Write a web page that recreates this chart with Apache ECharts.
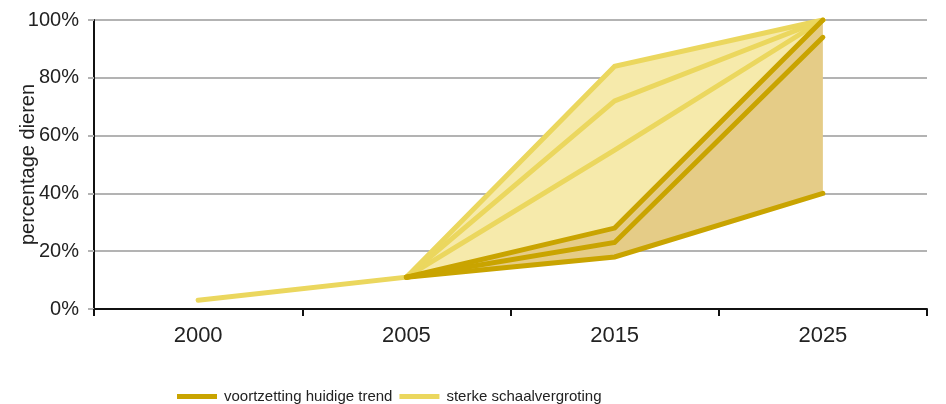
<!DOCTYPE html>
<html>
<head>
<meta charset="utf-8">
<script src="https://cdn.jsdelivr.net/npm/echarts@6/dist/echarts.min.js"></script>
<style>
  html, body { margin: 0; padding: 0; background: #fff; }
  #chart { width: 946px; height: 404px; }
</style>
</head>
<body>
<div id="chart"></div>
<script>
// jaren op de x-as
var years = ["2000", "2005", "2015", "2025"];

// sterke schaalvergroting (lichtgeel)
var sterk1 = [3, 11, 84, 100];
var sterk2 = [null, 11, 72, 100];
var sterk3 = [null, 11, 55, 100];

// voortzetting huidige trend (donkergeel)
var trend1 = [null, 11, 28, 100];
var trend2 = [null, 11, 23, 94];
var trend3 = [null, 11, 18, 40];

var yTicks = [0, 20, 40, 60, 80, 100];

var nameTrend = "voortzetting huidige trend";
var nameSterk = "sterke schaalvergroting";
var colTrend = "#c9a400";
var colSterk = "#ebd75e";

function diff(a, b) {
  return a.map(function(v, i) {
    return v == null || b[i] == null ? null : v - b[i];
  });
}

function lineSeries(name, data, color, z) {
  return {
    name: name,
    type: "line",
    data: data,
    showSymbol: false,
    symbol: "none",
    z: z,
    lineStyle: { color: color, width: 5, cap: "round", join: "miter" },
    itemStyle: { color: color }
  };
}

var chart = echarts.init(document.getElementById("chart"));

var option = {
  animation: false,
  textStyle: { fontFamily: "Liberation Sans, Arial, sans-serif" },
  grid: { left: 94, right: 19, top: 20, bottom: 95, containLabel: false, outerBoundsMode: "none" },
  legend: {
    left: 172,
    top: 384,
    itemWidth: 40,
    itemHeight: 5,
    itemGap: 7,
    icon: "rect",
    selectedMode: false,
    textStyle: { fontSize: 15, color: "#222", padding: [0, 0, 0, 2] },
    data: [
      { name: nameTrend, itemStyle: { color: colTrend } },
      { name: nameSterk, itemStyle: { color: colSterk } }
    ]
  },
  xAxis: {
    type: "category",
    boundaryGap: true,
    data: years,
    axisLine: { lineStyle: { color: "#111", width: 2 } },
    axisTick: { show: true, length: 7, lineStyle: { color: "#111", width: 2 } },
    axisLabel: { fontSize: 22, color: "#222", margin: 16 }
  },
  yAxis: {
    type: "value",
    min: 0,
    max: 100,
    interval: 20,
    name: "percentage dieren",
    nameLocation: "middle",
    nameGap: 56,
    nameMoveOverlap: false,
    nameTextStyle: { fontSize: 20, color: "#222" },
    axisLine: { show: true, lineStyle: { color: "#111", width: 2 } },
    axisTick: { show: true, length: 6, lineStyle: { color: "#b3b3b3", width: 2 } },
    axisLabel: {
      fontSize: 20,
      color: "#222",
      margin: 15,
      formatter: function(v) {
        return yTicks.indexOf(v) > -1 ? v + "%" : "";
      }
    },
    splitLine: { lineStyle: { color: "#b3b3b3", width: 2 } }
  },
  series: [
    // vlakken: gestapeld op de onderste trendlijn
    {
      name: "basis",
      type: "line",
      stack: "band",
      data: trend3,
      symbol: "none",
      lineStyle: { opacity: 0 },
      z: 1
    },
    {
      name: "band trend",
      type: "line",
      stack: "band",
      data: diff(trend1, trend3),
      symbol: "none",
      lineStyle: { opacity: 0 },
      areaStyle: { color: "#e5cc87", opacity: 1 },
      z: 1
    },
    {
      name: "band sterk",
      type: "line",
      stack: "band",
      data: diff(sterk1, trend1),
      symbol: "none",
      lineStyle: { opacity: 0 },
      areaStyle: { color: "#f6eaab", opacity: 1 },
      z: 1
    },
    lineSeries(nameSterk, sterk3, colSterk, 3),
    lineSeries(nameSterk, sterk2, colSterk, 3),
    lineSeries(nameSterk, sterk1, colSterk, 3),
    lineSeries(nameTrend, trend3, colTrend, 4),
    lineSeries(nameTrend, trend2, colTrend, 4),
    lineSeries(nameTrend, trend1, colTrend, 4)
  ]
};

chart.setOption(option);
</script>
</body>
</html>
